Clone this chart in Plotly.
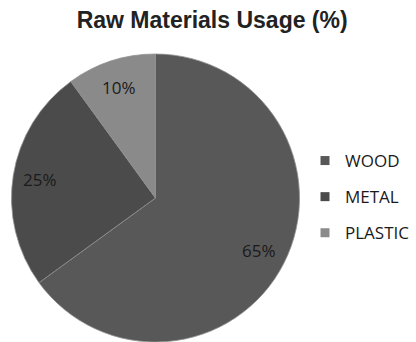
import math
import plotly.graph_objects as go

# ---- data ----
materials = ["WOOD", "METAL", "PLASTIC"]
usage_pct = [65, 25, 10]
colors = ["#585858", "#4b4b4b", "#8a8a8a"]
title_text = "Raw Materials Usage (%)"

W, H = 416, 342
dom_x = [11 / W, 300 / W]
dom_y = [0, 288 / H]

fig = go.Figure()

fig.add_trace(go.Pie(
    labels=materials,
    values=usage_pct,
    sort=False,
    direction="clockwise",
    rotation=0,
    marker=dict(colors=colors, line=dict(color="#8f8f8f", width=0.8)),
    textinfo="none",
    domain=dict(x=dom_x, y=dom_y),
    showlegend=False,
    hoverinfo="label+percent",
))

# data labels placed along each slice's mid-angle
cx = (dom_x[0] + dom_x[1]) / 2 * W
cy = (dom_y[0] + dom_y[1]) / 2 * H
r = min((dom_x[1] - dom_x[0]) * W, (dom_y[1] - dom_y[0]) * H) / 2
total = sum(usage_pct)
cum = 0
for v in usage_pct:
    mid = (cum + v / 2) / total * 2 * math.pi
    cum += v
    px = cx + 0.81 * r * math.sin(mid)
    py = cy + 0.81 * r * math.cos(mid)
    fig.add_annotation(x=px / W, y=py / H, xref="paper", yref="paper",
                       xanchor="center", yanchor="middle",
                       text=f"{v}%", showarrow=False,
                       font=dict(family="Open Sans", size=17, color="#1a1a1a"))

# legend entries (one group each so spacing can be controlled)
for name, col in zip(materials, colors):
    fig.add_trace(go.Scatter(
        x=[None], y=[None], mode="markers", name=name,
        legendgroup=name,
        marker=dict(symbol="square", size=9, color=col),
    ))

fig.update_layout(
    width=W, height=H,
    margin=dict(l=0, r=0, t=0, b=0),
    paper_bgcolor="white",
    plot_bgcolor="white",
    title=dict(text=f"<b>{title_text}</b>", x=0.51, xanchor="center",
               y=1 - 20 / H, yanchor="middle",
               font=dict(family="Liberation Sans", size=23, color="#222222")),
    xaxis=dict(visible=False),
    yaxis=dict(visible=False),
    legend=dict(x=305 / W, xanchor="left", y=1 - 143 / H, yanchor="top",
                font=dict(family="Open Sans", size=17, color="#1a1a1a"),
                tracegroupgap=11, bgcolor="rgba(0,0,0,0)"),
)

fig.write_html("out.html")
